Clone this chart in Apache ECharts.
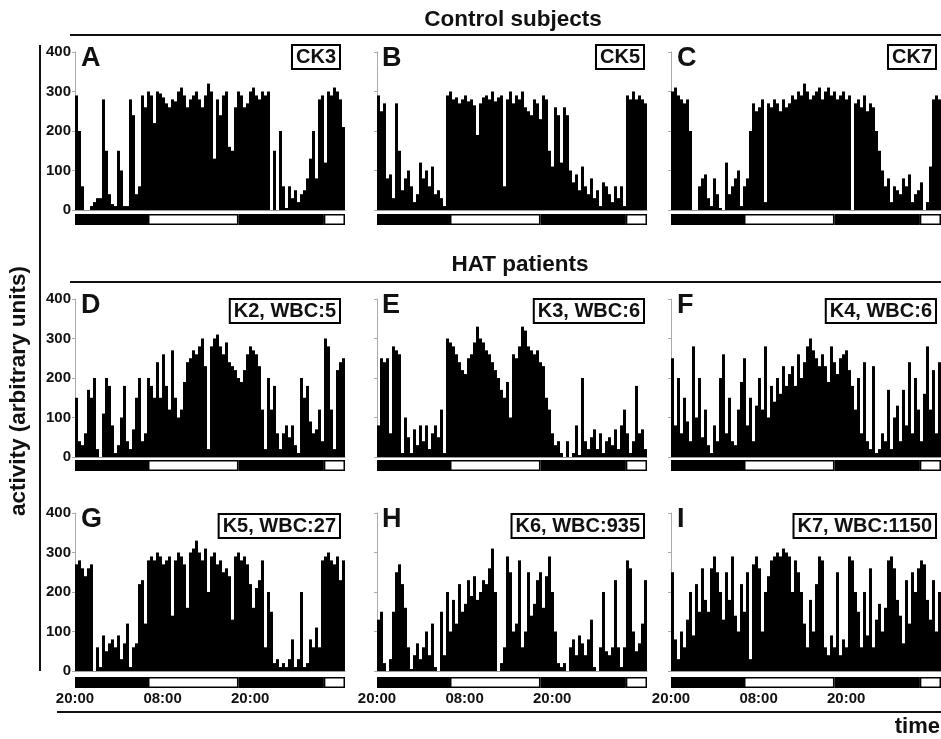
<!DOCTYPE html>
<html>
<head>
<meta charset="utf-8">
<title>Activity actograms</title>
<script src="https://cdn.jsdelivr.net/npm/echarts@6/dist/echarts.min.js"></script>
<style>
  html, body { margin: 0; padding: 0; background: #fff; }
  #chart { width: 941px; height: 739px; }
</style>
</head>
<body>
<div id="chart"></div>
<script>
// activity (arbitrary units), one value per ~25 min bin, recording starts 20:00
var ck3 = [290,200,60,0,0,10,20,30,30,280, 150,40,15,10,150,100,10,10,280,240, 40,60,290,260,300,290,220,300,295,285,
  270,260,280,275,300,310,290,260,280,290, 300,280,260,290,320,300,130,280,240,290, 300,160,150,260,300,290,260,270,300,310,
  290,280,300,290,300,0,150,0,200,60, 5,60,30,50,20,40,50,80,130,200, 80,280,290,120,300,290,310,300,280,210]
var ck5 = [290,250,270,80,90,30,270,150,50,80, 100,60,20,40,120,80,100,60,110,40, 50,30,10,290,300,280,285,270,280,290,
  275,280,265,190,270,285,290,280,300,275, 285,290,60,280,300,270,290,280,300,260, 250,240,280,270,230,290,280,150,110,260,
  240,120,260,240,100,70,90,50,110,60, 40,80,30,50,10,70,60,40,20,60, 30,60,10,290,280,300,280,290,280,270]
var ck7 = [300,310,290,280,270,280,200,0,0,60, 80,90,30,10,80,40,5,0,120,40, 60,80,100,10,60,80,200,270,250,260,
  280,20,270,260,280,270,250,280,260,270, 290,280,300,290,320,300,280,290,300,310, 280,300,310,290,300,280,290,300,280,290,
  0,270,280,260,290,250,270,260,200,150, 100,60,80,20,60,50,40,80,60,90, 20,40,50,70,0,20,110,280,290,280]
var k2 = [150,40,30,60,170,150,200,20,0,110, 200,180,80,10,30,100,180,40,20,70, 150,200,40,60,200,180,150,240,150,260,
  180,120,270,150,100,120,190,240,250,270, 260,280,300,230,20,280,300,310,280,260, 290,240,230,220,200,190,220,260,280,270,
  260,230,120,20,200,120,180,60,20,60, 80,50,80,30,10,200,150,180,90,60, 70,120,40,300,280,120,20,220,240,250]
var k3 = [80,250,240,250,60,280,270,260,10,100, 50,10,70,30,80,40,80,20,60,80, 50,120,10,300,290,280,260,240,220,210,
  250,260,290,330,300,290,270,260,240,220, 200,170,150,190,100,260,250,280,330,320, 280,270,260,270,240,230,150,120,60,30,
  40,10,0,40,0,10,80,5,200,40, 20,50,70,20,60,10,40,50,30,70, 20,80,120,60,10,40,180,60,70,20]
var k4 = [250,80,200,60,150,90,40,280,100,200, 50,120,30,10,80,40,200,260,60,150, 40,30,120,190,250,80,150,40,130,200,
  120,280,100,180,140,200,160,230,180,210, 230,180,260,200,240,280,300,270,250,230, 260,230,190,280,240,210,250,260,270,220,
  180,120,200,60,240,40,20,230,10,20, 60,40,170,20,100,130,40,170,80,240, 60,200,120,40,160,280,120,220,60,240]
var k5 = [270,280,260,240,260,270,0,60,10,90, 50,70,80,60,90,30,70,120,10,60, 70,220,230,120,280,290,280,300,290,270,
  280,290,140,280,300,290,270,160,300,310, 330,300,280,310,200,290,300,270,280,250, 260,240,130,290,300,280,290,270,220,160,
  210,230,280,60,200,150,20,30,10,20, 10,30,80,10,30,200,10,20,80,60, 110,60,280,290,300,280,270,290,230,280]
var k6 = [130,150,20,0,30,150,250,270,220,160, 60,5,40,70,30,60,100,40,120,10, 0,150,40,200,100,180,120,220,150,170,
  230,190,240,180,200,230,220,260,310,200, 0,20,60,290,250,100,120,280,60,100, 250,140,170,230,250,160,240,290,200,100,
  20,10,20,0,60,80,40,90,70,40, 80,130,10,0,60,200,50,40,60,230, 60,10,60,280,260,100,50,70,120,230]
var k7 = [250,80,30,100,60,130,200,90,220,150, 260,180,150,260,290,250,200,130,250,180, 290,140,100,220,150,250,30,270,290,260,
  100,200,240,280,290,300,290,310,300,290, 200,280,250,200,120,60,180,100,220,290, 280,60,40,90,60,250,40,80,60,290,
  280,200,150,60,200,90,260,60,130,170, 100,160,280,290,260,180,140,70,230,120, 250,200,260,280,270,180,130,230,100,200]

var panelLetters = ['A', 'B', 'C', 'D', 'E', 'F', 'G', 'H', 'I']
var panelTags = ['CK3', 'CK5', 'CK7', 'K2, WBC:5', 'K3, WBC:6', 'K4, WBC:6', 'K5, WBC:27', 'K6, WBC:935', 'K7, WBC:1150']
// light/dark schedule in hours from 20:00: dark, light, dark, light
var ldSegments = [10, 12.4, 11.7, 2.9]
var timeLabels = ['20:00', '08:00', '20:00']

var panels = [ck3, ck5, ck7, k2, k3, k4, k5, k6, k7]
var bins = ck3.map(function (v, i) { return i })

var FONT = '"Liberation Sans", Arial, sans-serif'
var colLeft = [75, 377, 671]
var colWidth = [270, 270, 270]
var rowTop = [52, 299, 513]
var ldTop = [214, 460, 677]
var tagRight = [343, 647, 939]
var tagMid = [57, 311, 526]
var letterX = [81, 382, 677]
var letterY = [59, 306, 520]

var grid = [], xAxis = [], yAxis = [], series = [], graphic = []

panels.forEach(function (values, i) {
  var r = Math.floor(i / 3)
  var c = i % 3
  var g = i * 2
  grid.push({ left: colLeft[c], top: rowTop[r], width: colWidth[c], height: 158 })
  grid.push({ left: colLeft[c], top: ldTop[r], width: colWidth[c], height: 11 })

  xAxis.push({
    gridIndex: g, type: 'category', data: bins, boundaryGap: true,
    axisLine: { lineStyle: { color: '#999', width: 1 } },
    axisTick: { show: false }, axisLabel: { show: false }
  })
  yAxis.push({
    gridIndex: g, type: 'value', min: 0, max: 400, interval: 100,
    axisLine: { show: true, lineStyle: { color: '#aaa', width: 1 } },
    axisTick: { show: true, length: 3, lineStyle: { color: '#aaa' } },
    splitLine: { show: false },
    axisLabel: { show: c === 0, fontFamily: FONT, fontWeight: 'bold', fontSize: 15, color: '#111', margin: 4 }
  })
  series.push({
    type: 'bar', xAxisIndex: g, yAxisIndex: g, data: values,
    barCategoryGap: '0%', itemStyle: { color: '#000' }, silent: true
  })

  // light/dark bar under each panel
  xAxis.push({
    gridIndex: g + 1, type: 'value', min: 0, max: 37, interval: 12,
    axisLine: { show: false }, axisTick: { show: false }, splitLine: { show: false },
    axisLabel: {
      show: r === 2, showMaxLabel: false, margin: 3,
      fontFamily: FONT, fontWeight: 'bold', fontSize: 15, color: '#111',
      formatter: function (v) { return v % 12 === 0 ? (timeLabels[v / 12] || '') : '' }
    }
  })
  yAxis.push({ gridIndex: g + 1, type: 'category', data: ['LD'], show: false })
  ldSegments.forEach(function (h, j) {
    series.push({
      type: 'bar', xAxisIndex: g + 1, yAxisIndex: g + 1, stack: 'ld' + i, data: [h],
      barWidth: '100%', silent: true,
      itemStyle: { color: j % 2 ? '#fff' : '#000', borderColor: '#000', borderWidth: 1.5 }
    })
  })

  graphic.push({
    type: 'text', x: letterX[c], y: letterY[r],
    style: { text: panelLetters[i], font: 'bold 27px ' + FONT, fill: '#111', align: 'left', verticalAlign: 'middle' }
  })
  graphic.push({
    type: 'text', x: tagRight[c] - 4, y: tagMid[r],
    style: {
      text: panelTags[i], font: 'bold 20px ' + FONT, fill: '#111', align: 'right', verticalAlign: 'middle',
      backgroundColor: '#fff', borderColor: '#000', borderWidth: 2, padding: [2, 3, 0, 3]
    }
  })
})

graphic.push(
  { type: 'text', x: 513, y: 20, style: { text: 'Control subjects', font: 'bold 22.5px ' + FONT, fill: '#111', align: 'center', verticalAlign: 'middle' } },
  { type: 'text', x: 520, y: 265, style: { text: 'HAT patients', font: 'bold 22.5px ' + FONT, fill: '#111', align: 'center', verticalAlign: 'middle' } },
  { type: 'line', shape: { x1: 70, y1: 35, x2: 941, y2: 35 }, style: { stroke: '#111', lineWidth: 2 } },
  { type: 'line', shape: { x1: 70, y1: 282, x2: 941, y2: 282 }, style: { stroke: '#111', lineWidth: 2 } },
  { type: 'line', shape: { x1: 57, y1: 712, x2: 941, y2: 712 }, style: { stroke: '#111', lineWidth: 2 } },
  { type: 'line', shape: { x1: 40, y1: 45, x2: 40, y2: 671 }, style: { stroke: '#111', lineWidth: 2 } },
  { type: 'text', x: 19, y: 391, rotation: Math.PI / 2, style: { text: 'activity (arbitrary units)', font: 'bold 22.5px ' + FONT, fill: '#111', align: 'center', verticalAlign: 'middle' } },
  { type: 'text', x: 940, y: 727, style: { text: 'time', font: 'bold 22px ' + FONT, fill: '#111', align: 'right', verticalAlign: 'middle' } }
)

var chart = echarts.init(document.getElementById('chart'))
chart.setOption({
  animation: false,
  backgroundColor: '#fff',
  grid: grid,
  xAxis: xAxis,
  yAxis: yAxis,
  series: series,
  graphic: graphic
})
</script>
</body>
</html>
